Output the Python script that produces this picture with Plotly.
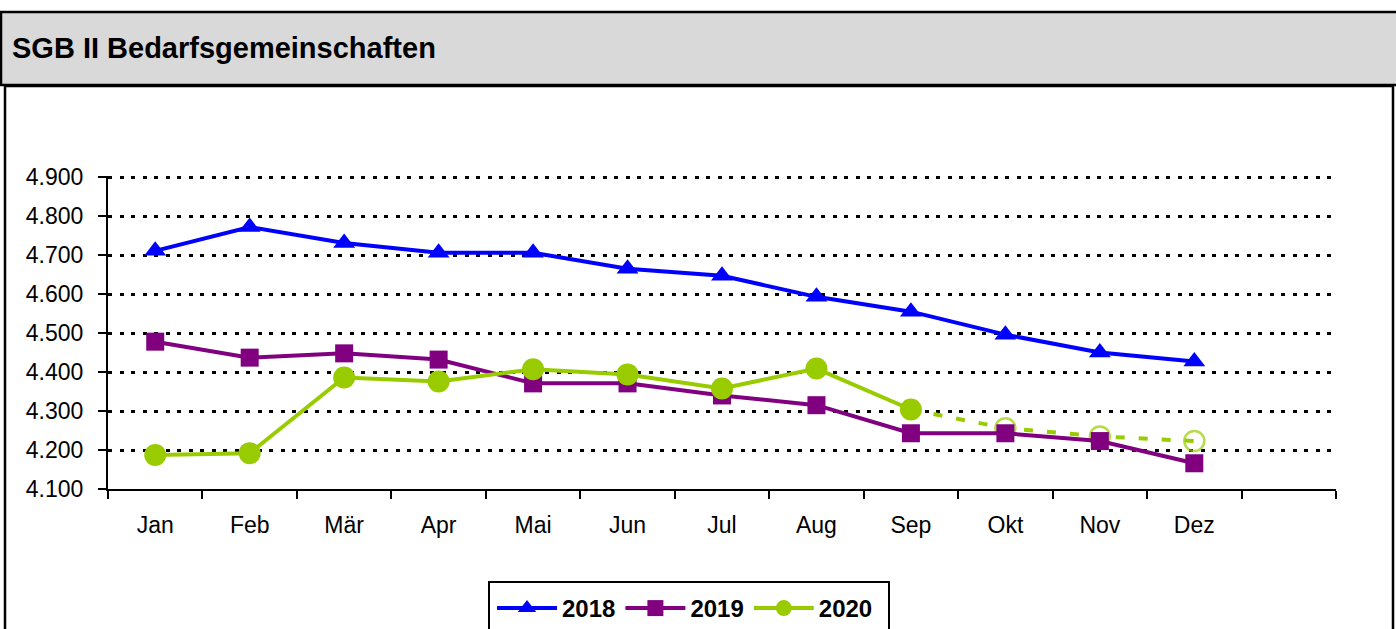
import plotly.graph_objects as go

# Monate und Werte (Bedarfsgemeinschaften)
months = ["Jan", "Feb", "Mär", "Apr", "Mai", "Jun", "Jul", "Aug", "Sep", "Okt", "Nov", "Dez"]
values_2018 = [4711, 4772, 4731, 4706, 4706, 4665, 4647, 4593, 4555, 4496, 4450, 4427]
values_2019 = [4478, 4437, 4448, 4432, 4371, 4371, 4340, 4315, 4243, 4243, 4223, 4166]
values_2020 = [4187, 4192, 4386, 4376, 4407, 4394, 4358, 4409, 4304]
# Prognose 2020 (gestrichelt, offene Kreise)
forecast_months = ["Sep", "Okt", "Nov", "Dez"]
forecast_2020 = [4304, 4256, 4235, 4223]

W, H = 1396, 629
L, R, T, B = 108, 1336, 176, 489  # Plotbereich in Pixeln


def px_x(x):
    return (x - L) / (R - L)


def px_y(y):
    return (B - y) / (B - T)


FONT = "Arial, Liberation Sans, sans-serif"
BLUE, PURPLE, GREEN = "#0000FF", "#800080", "#99CC00"

fig = go.Figure()

fig.add_trace(go.Scatter(
    x=forecast_months, y=forecast_2020, mode="lines+markers", showlegend=False,
    line=dict(color=GREEN, width=4, dash="9px,14px"),
    marker=dict(symbol="circle-open", size=[0, 20, 20, 20], color=GREEN, line=dict(width=2.5)),
))
fig.add_trace(go.Scatter(
    x=months, y=values_2018, mode="lines+markers", name="2018",
    line=dict(color=BLUE, width=4),
    marker=dict(symbol="triangle-up", size=19, color=BLUE),
))
fig.add_trace(go.Scatter(
    x=months, y=values_2019, mode="lines+markers", name="2019",
    line=dict(color=PURPLE, width=4),
    marker=dict(symbol="square", size=18, color=PURPLE),
))
fig.add_trace(go.Scatter(
    x=months[:len(values_2020)], y=values_2020, mode="lines+markers", name="2020",
    line=dict(color=GREEN, width=4),
    marker=dict(symbol="circle", size=22, color=GREEN),
))

# Titelleiste, Rahmen und Legendenkasten
fig.add_shape(type="rect", xref="paper", yref="paper",
              x0=px_x(1), x1=px_x(1400), y0=px_y(85), y1=px_y(12),
              fillcolor="#D9D9D9", line=dict(color="black", width=2.5), layer="below")
fig.add_shape(type="rect", xref="paper", yref="paper",
              x0=px_x(5), x1=px_x(1393), y0=px_y(700), y1=px_y(86),
              fillcolor="rgba(0,0,0,0)", line=dict(color="black", width=2.5), layer="below")
fig.add_shape(type="rect", xref="paper", yref="paper",
              x0=px_x(489), x1=px_x(889), y0=px_y(700), y1=px_y(582),
              fillcolor="white", line=dict(color="black", width=2), layer="below")
fig.add_annotation(xref="paper", yref="paper", x=px_x(10), y=px_y(48),
                   xanchor="left", yanchor="middle", showarrow=False,
                   text="<b>SGB II Bedarfsgemeinschaften</b>",
                   font=dict(family=FONT, size=29, color="black"))

fig.update_layout(
    width=W, height=H,
    margin=dict(l=L, r=W - R, t=T, b=H - B, autoexpand=False),
    paper_bgcolor="white", plot_bgcolor="white",
    separators=",.",
    font=dict(family=FONT, size=23, color="black"),
    showlegend=True,
    xaxis=dict(
        type="category", categoryorder="array", categoryarray=months + [" "],
        range=[-0.5, 12.5], tickson="boundaries", ticks="outside", ticklen=8,
        tickwidth=2, tickcolor="black", showgrid=False, showline=True,
        linecolor="black", linewidth=2, ticklabelstandoff=14,
    ),
    yaxis=dict(
        range=[4100, 4903], tickvals=list(range(4100, 5000, 100)), tickformat=",d",
        ticks="outside", ticklen=8, tickwidth=2, tickcolor="black",
        showline=True, linecolor="black", linewidth=2,
        showgrid=True, gridcolor="black", gridwidth=3, griddash="4px,7.5px",
        zeroline=False, ticklabelstandoff=10,
    ),
    legend=dict(
        orientation="h", x=px_x(492), y=px_y(586), xanchor="left", yanchor="top",
        borderwidth=0, bgcolor="rgba(0,0,0,0)", itemwidth=60,
        font=dict(family=FONT, size=24, color="black", weight="bold"),
    ),
)

fig.write_html("out.html", config={"displayModeBar": False},
               post_script="document.body.style.margin='0px';")
